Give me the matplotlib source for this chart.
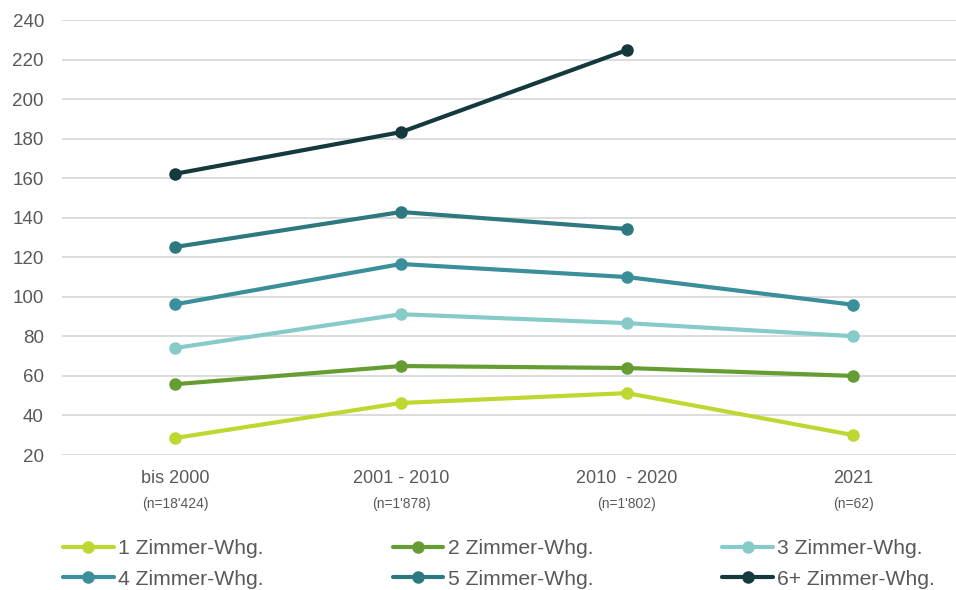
import matplotlib
matplotlib.use("Agg")
import matplotlib.pyplot as plt
from matplotlib.transforms import blended_transform_factory

plt.rcParams['font.family'] = ['Liberation Sans', 'DejaVu Sans']

categories = ["bis 2000", "2001 - 2010", "2010  - 2020", "2021"]
n_labels = ["(n=18'424)", "(n=1'878)", "(n=1'802)", "(n=62)"]

series_names = ["1 Zimmer-Whg.", "2 Zimmer-Whg.", "3 Zimmer-Whg.",
                "4 Zimmer-Whg.", "5 Zimmer-Whg.", "6+ Zimmer-Whg."]
s1 = [28.6, 46.3, 51.3, 30.1]
s2 = [55.8, 65.0, 64.0, 60.0]
s3 = [74.1, 91.2, 86.7, 80.1]
s4 = [96.2, 116.6, 110.0, 96.0]
s5 = [125.2, 142.9, 134.3, None]
s6 = [162.2, 183.3, 224.8, None]
series = [s1, s2, s3, s4, s5, s6]
colors = ["#BFD730", "#659D32", "#86CBC8", "#3A8F9A", "#2E7980", "#153A3E"]

yticks = [20, 40, 60, 80, 100, 120, 140, 160, 180, 200, 220, 240]

W, H = 956, 590
fig = plt.figure(figsize=(W / 100, H / 100), dpi=100)
ax = fig.add_axes([62 / W, 1 - 455 / H, (956 - 62) / W, (455 - 20) / H])

txt = "#595959"
handles = []
for name, vals, c in zip(series_names, series, colors):
    xs = [i for i, v in enumerate(vals) if v is not None]
    ys = [v for v in vals if v is not None]
    h, = ax.plot(xs, ys, color=c, lw=3.0, marker="o", markersize=8,
                 solid_capstyle="round", label=name, zorder=3)
    handles.append(h)

ax.set_ylim(20, 240)
ax.set_xlim(-0.5, (956 - 175) / 226)
ax.set_yticks(yticks)
ax.set_yticklabels([str(t) for t in yticks])
ax.set_xticks(range(len(categories)))
ax.set_xticklabels(categories, fontsize=13)
ax.grid(axis="y", color="#D9D9D9", lw=1.3, zorder=0)
ax.set_axisbelow(True)
for sp in ax.spines.values():
    sp.set_visible(False)
ax.tick_params(axis="both", length=0, labelcolor=txt)
ax.tick_params(axis="y", pad=13, labelsize=13.5)
ax.tick_params(axis="x", pad=11)

trans = blended_transform_factory(ax.transData, fig.transFigure)
for i, lab in enumerate(n_labels):
    ax.text(i, 1 - 504 / H, lab, transform=trans, ha="center", va="center",
            fontsize=10, color=txt)

order = [0, 3, 1, 4, 2, 5]
leg = fig.legend([handles[i] for i in order], [series_names[i] for i in order],
                 ncol=3, loc="upper left", bbox_to_anchor=(63 / W, 1 - 539 / H),
                 frameon=False, fontsize=15.2, handlelength=2.4, handletextpad=0.22,
                 columnspacing=6.1, labelspacing=0.55, borderpad=0, borderaxespad=0)
for t in leg.get_texts():
    t.set_color(txt)

fig.savefig("out.png", dpi=100)
